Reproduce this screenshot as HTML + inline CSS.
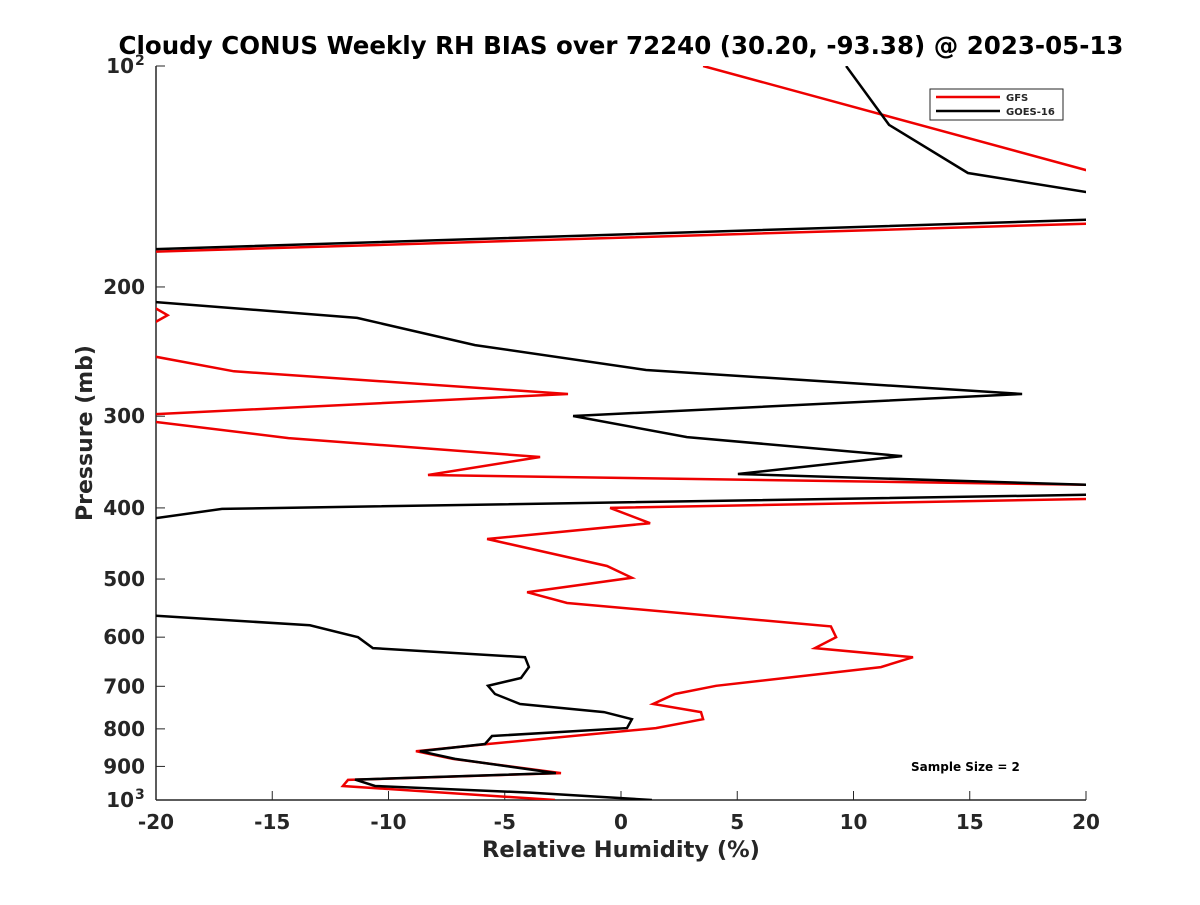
<!DOCTYPE html>
<html><head><meta charset="utf-8"><style>
body{margin:0;background:#fff}
svg text{font-family:"DejaVu Sans","Liberation Sans",sans-serif;font-weight:bold;fill:#262626}
</style></head><body>
<svg id="chart" width="1200" height="900" viewBox="0 0 1200 900" xmlns="http://www.w3.org/2000/svg">
<rect width="1200" height="900" fill="#fff"/>
<defs><clipPath id="plotclip"><rect x="156" y="66" width="930" height="734"/></clipPath></defs>
<text x="621" y="54" font-size="24.5" text-anchor="middle" style="fill:#000">Cloudy CONUS Weekly RH BIAS over 72240 (30.20, -93.38) @ 2023-05-13</text>
<g id="axes"></g>
<g id="series" clip-path="url(#plotclip)"></g>
<text x="621" y="857" font-size="22.5" text-anchor="middle">Relative Humidity (%)</text>
<text transform="translate(92,433) rotate(-90)" font-size="22" text-anchor="middle">Pressure (mb)</text>
<g>
<rect x="930" y="89" width="133" height="31" fill="#fff" stroke="#262626" stroke-width="1"/>
<line x1="936" y1="97" x2="1000" y2="97" stroke="#e00" stroke-width="2.5"/>
<text x="1006" y="101" font-size="10">GFS</text>
<line x1="936" y1="111" x2="1000" y2="111" stroke="#000" stroke-width="2.5"/>
<text x="1006" y="115" font-size="10">GOES-16</text>
</g>
<text x="911" y="771" font-size="12" style="fill:#000">Sample Size = 2</text>
</svg>
<script>
const xTicks=[-20,-15,-10,-5,0,5,10,15,20];
const yTicks=[100,200,300,400,500,600,700,800,900,1000];
const yTickLabels=["10","200","300","400","500","600","700","800","900","10"];
const yTickSups=["2","","","","","","","","","3"];
const gfsRH=[3.53,20,60,20,-20,-60,-20,-19.5,-20,-60,-20,-16.65,-2.28,-20,-60,-20,-14.3,-3.48,-8.3,20,60,20,-0.47,1.25,-5.76,-0.6,0.47,-4.04,-2.32,9.03,9.25,8.34,12.56,11.18,4.09,2.32,1.38,3.44,3.53,1.5,-5.72,-8.82,-7.23,-2.58,-11.74,-11.96,-2.84];
const gfsP=[100,138.6,150,164,179,200,214,218.5,223,236,249,260.6,279.8,298,302,305.5,321.3,341,360.8,372,380,389,400,419.6,441,480,498,521,539,580,600,621,639,659,699,717,740,759,776,798,839,858,879,919,939,957,1000];
const goesRH=[9.68,11.53,14.92,20,60,20,-20,-60,-20,-11.35,-6.28,1.08,17.25,-2.06,2.84,12.09,5.03,20,60,20,-17.16,-20,-60,-20,-13.38,-11.31,-10.67,-4.13,-3.96,-4.3,-5.72,-5.42,-4.34,-0.73,0.47,0.26,-5.55,-5.85,-8.65,-7.14,-2.8,-11.44,-10.58,-3.91,1.33];
const goesP=[100,120.3,139.9,148.5,155,162,177.6,195,209.7,220.4,240,259.5,279.8,299.8,320.3,340,359.6,372,378,383.9,401.3,413,480,561,578,600,621,639,659,682,699,717,740,759,776,798,818,839,858,879,919,938,957,977,1000];
const NS='http://www.w3.org/2000/svg';
const X=v=>156+(v+20)*930/40;
const Y=p=>66+Math.log10(p/100)*734;
function mk(t,a,parent){const e=document.createElementNS(NS,t);for(const k in a)e.setAttribute(k,a[k]);parent.appendChild(e);return e;}
const ax=document.getElementById('axes');
const xl=mk('line',{x1:156,y1:800,x2:1086,y2:800,stroke:'#262626','stroke-width':1.5},ax);


const yl=mk('line',{x1:156,y1:66,x2:156,y2:800,stroke:'#262626','stroke-width':1.5},ax);


xTicks.forEach(v=>{
 mk('line',{x1:X(v),y1:800,x2:X(v),y2:791,stroke:'#262626','stroke-width':1},ax);
 const t=mk('text',{x:X(v),y:829,'font-size':20,'text-anchor':'middle'},ax);
 t.textContent=v;
 
 
});
yTicks.forEach((p,i)=>{
 mk('line',{x1:156,y1:Y(p),x2:165,y2:Y(p),stroke:'#262626','stroke-width':1},ax);
 const sup=yTickSups[i];
 const t=mk('text',{x:sup?134:145,y:Y(p)+7,'font-size':20,'text-anchor':'end'},ax);
 t.textContent=yTickLabels[i];
 
 
 if(sup){
  const s=mk('text',{x:135,y:Y(p)-1,'font-size':14,'text-anchor':'start'},ax);
  s.textContent=sup;
  
  
 }
});
const sg=document.getElementById('series');
function draw(xs,ps,color,name){
 const pts=xs.map((v,i)=>X(v).toFixed(1)+','+Y(ps[i]).toFixed(1)).join(' ');
 const pl=mk('polyline',{points:pts,fill:'none',stroke:color,'stroke-width':2.5,'stroke-linejoin':'miter'},sg);
 
 
}
draw(gfsRH,gfsP,'#e00','gfs-line');
draw(goesRH,goesP,'#000','goes16-line');
</script>
</body></html>
